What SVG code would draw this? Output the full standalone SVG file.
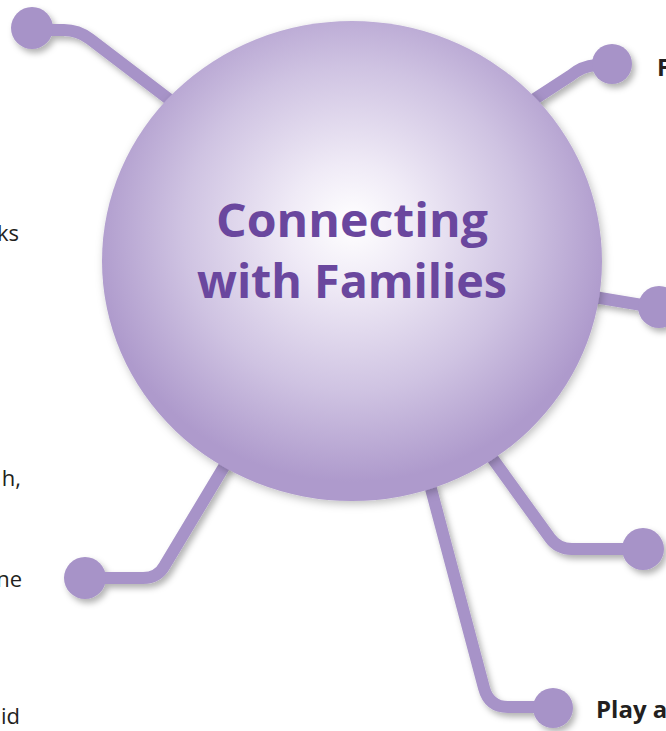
<svg xmlns="http://www.w3.org/2000/svg" width="666" height="731" viewBox="0 0 666 731">
  <defs>
    <filter id="sh" x="-20%" y="-20%" width="140%" height="140%">
      <feDropShadow dx="3" dy="4" stdDeviation="3" flood-color="#000" flood-opacity="0.3"/>
    </filter>
    <filter id="csh" x="-10%" y="-10%" width="120%" height="120%">
      <feDropShadow dx="2" dy="3" stdDeviation="4" flood-color="#000" flood-opacity="0.25"/>
    </filter>
    <radialGradient id="g" cx="0.5" cy="0.44" r="0.52" fx="0.5" fy="0.42">
      <stop offset="0" stop-color="#ffffff"/>
      <stop offset="0.25" stop-color="#efeaf6"/>
      <stop offset="0.65" stop-color="#cfc3e2"/>
      <stop offset="1" stop-color="#ae9acc"/>
    </radialGradient>
    <style>
      .ln{fill:none;stroke:#a793c8;stroke-width:12}
      .dot{fill:#a793c8}
      .t{font-family:"Open Sans","Liberation Sans",sans-serif;font-size:22px;fill:#231f20}
      .tb{font-family:"Open Sans","Liberation Sans",sans-serif;font-weight:bold;font-size:24px;fill:#231f20}
      .title{font-family:"Open Sans","Liberation Sans",sans-serif;font-weight:bold;font-size:47px;fill:#6a479e;text-anchor:middle}
    </style>
  </defs>
  <g id="connectors" filter="url(#sh)">
    <path class="ln" d="M170 100 L90 39 Q78 30 64 30 L32 30"/>
    <path class="ln" d="M530 102 L570 76 Q582 66 596 65 L612 64"/>
    <path class="ln" d="M588 296 L660 308"/>
    <path class="ln" d="M490 455 L550 538 Q558 549 572 549 L643 549"/>
    <path class="ln" d="M430 485 L484 688 Q489 707 508 707 L553 707"/>
    <path class="ln" d="M228 460 L165 565 Q158 578 143 578 L85 578"/>
    <circle class="dot" cx="32" cy="28" r="21"/>
    <circle class="dot" cx="612" cy="64" r="20"/>
    <circle class="dot" cx="659" cy="307" r="21"/>
    <circle class="dot" cx="643" cy="549" r="21"/>
    <circle class="dot" cx="553" cy="708" r="20"/>
    <circle class="dot" cx="85" cy="578" r="21"/>
  </g>
  <g id="hub">
    <ellipse cx="352" cy="261" rx="250" ry="240" fill="url(#g)" filter="url(#csh)"/>
    <text class="title" x="352" y="237" textLength="272" lengthAdjust="spacingAndGlyphs">Connecting</text>
    <text class="title" x="352" y="298" textLength="310" lengthAdjust="spacingAndGlyphs">with Families</text>
  </g>
  <g id="labels">
    <text class="tb" x="657" y="76">F</text>
    <text class="tb" x="596" y="718">Play a</text>
    <text class="t" x="19" y="241" text-anchor="end">ks</text>
    <text class="t" x="21" y="486" text-anchor="end">h,</text>
    <text class="t" x="22" y="587" text-anchor="end">ne</text>
    <text class="t" x="20" y="724" text-anchor="end">id</text>
  </g>
</svg>
